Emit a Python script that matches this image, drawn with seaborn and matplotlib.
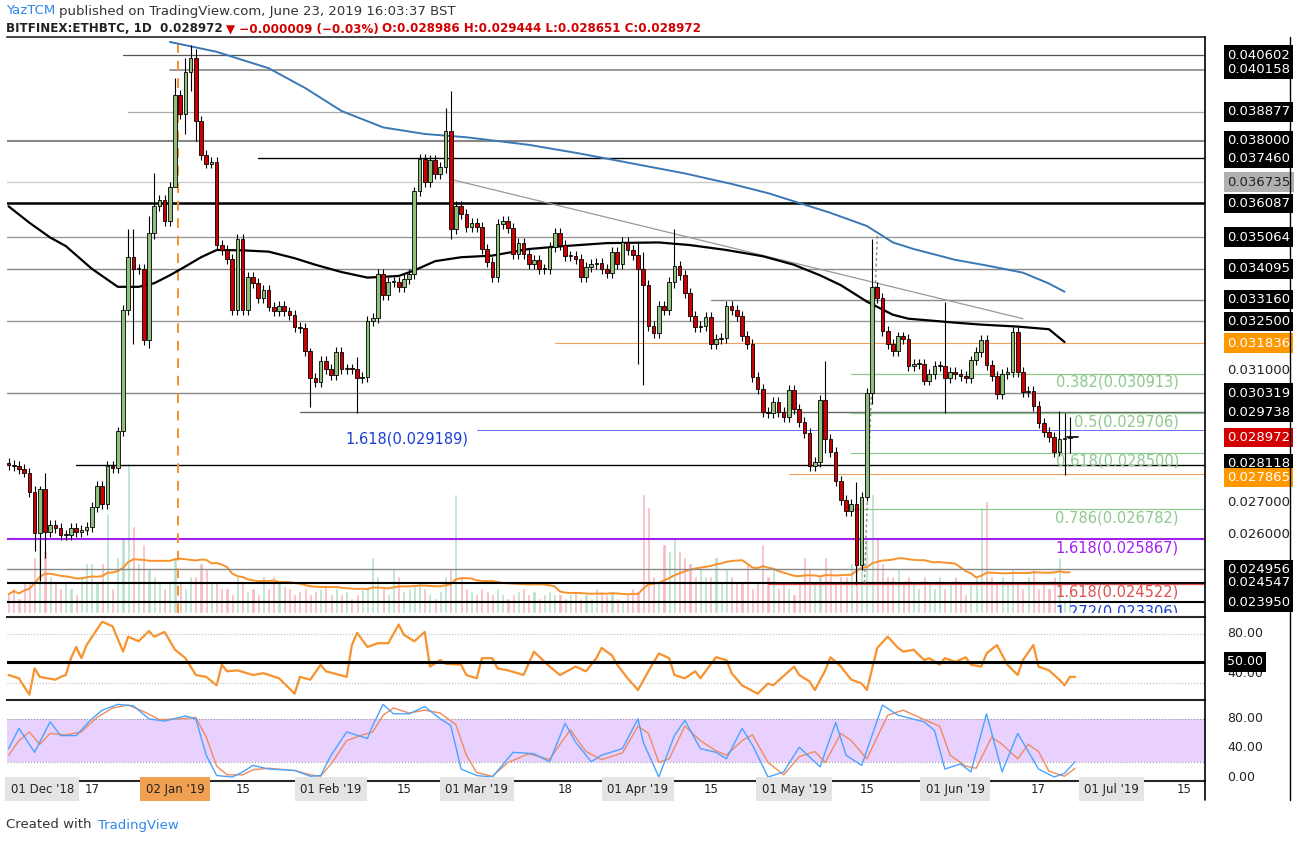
import matplotlib
matplotlib.use('Agg')
import matplotlib.pyplot as plt
import numpy as np
import pandas as pd
import seaborn as sns

# daily closes in units of 1e-4 BTC, 01 Dec 2018 .. 23 Jun 2019
closes = [281.4,281,280,279,273,260.7,274,261,263,262,
          260,260,262,261,261.5,262.5,268.5,275,269.5,281,
          280.5,291.5,328.4,344.7,340.8,340.8,319.4,352,360,362,
          355.6,366,394,388,401,405,386,375.7,373,373.6,
          348.3,346.6,344,328.4,350,328.4,338.5,336.7,332,334.6,
          329.5,328,329.8,328,327,323.4,323,316,307.7,306.5,
          313,310.5,308.6,315.7,310.5,310.6,310.5,307.7,308,325,
          326,339.5,333,337,337,335.5,338,339.4,364.5,374.4,
          367.3,374,369.8,372,383,353,
          360,357.6,353.7,354.8,353.7,346.9,343,338.5,354.5,355.6,
          353.3,345.4,348.8,345.4,342.4,343.8,340.8,341,347.6,351.9,
          348.2,345,345,344,338.5,341.6,342.4,342.7,340.8,339.6,
          346.1,342.4,349.2,346.6,345.2,340.9,336,323.6,321.5,329.6,
          328.3,337,341.8,339,333.6,326.6,323.2,323.5,326.2,318,
          319.5,319.8,329.6,328.4,326.6,320.6,318,308,304.3,297.3,
          297,300.6,297.3,296,304,298.4,294.4,291,281,282.2,
          301,289.3,285.3,276.5,270.7,267.3,269.5,251,271.7,303.3,
          335.4,332,
          322,318,316,320.4,319.5,311.4,312,312,307,308.9,
          311.4,311.4,307.8,309.7,309,308.3,307.7,313.1,315.6,319.3,
          311.7,308.3,303,308.9,309.7,321.7,309.7,303.5,303.8,299.3,
          294.2,291.4,289.7,285.2,289.2,289.5,289.7]
first_open = 282
# notable wicks: index -> (high, low)
wicks = {5: (275, 255), 6: (275, 246), 7: (279, 253), 22: (330, 290), 23: (353, 327),
         24: (353, 318), 27: (357, 317), 28: (370, 350), 32: (399, 366), 34: (405, 382),
         35: (409, 395), 36: (408, 380), 58: (317, 299), 67: (314, 297), 84: (390, 370),
         85: (395, 350), 121: (349, 312), 122: (346, 305.6), 128: (353, 335), 157: (313, 285),
         163: (276, 245), 166: (350, 300), 180: (331, 297), 202: (297.7, 284),
         203: (297, 278.3), 204: (296, 285)}
volume = [15,20,12,25,25,45,60,50,30,25,20,25,20,15,30,40,40,25,40,80,20,45,60,120,70,40,55,35,30,25,20,
          25,45,25,20,30,30,40,35,25,25,20,20,15,30,25,18,20,15,30,20,30,25,22,20,15,18,20,15,18,20,22,
          15,20,15,18,12,15,20,22,45,30,20,15,35,30,18,20,22,25,20,15,12,18,30,35,95,30,20,18,
          15,20,18,15,20,15,12,15,18,20,15,18,12,15,18,15,15,12,15,18,12,15,12,20,18,15,18,12,10,15,20,
          18,95,85,30,25,55,50,60,50,45,40,30,35,30,30,45,25,35,30,25,25,40,20,25,55,30,35,20,25,20,
          15,25,45,35,25,30,45,35,25,30,30,40,85,75,60,95,60,40,30,30,35,25,30,25,20,30,25,20,30,20,25,
          30,25,15,25,30,85,90,30,25,30,25,35,25,20,30,35,20,25,20,30,45,10,15]

# moving averages: (day index, value 1e-4)
ma200_pts = [(31, 410), (40, 407), (50, 402), (57, 396), (64, 389), (72, 384), (80, 382), (88, 381),
             (100, 378.7), (110, 376), (120, 373), (130, 370), (139, 366.8), (146, 364), (152, 361),
             (158, 358), (165, 354), (170, 349), (174, 347), (182, 343.7), (188, 342), (195, 339.8),
             (200, 336.5), (203, 334)]
ma50_pts = [(0, 360), (4, 355), (8, 350.5), (11, 347.9), (16, 341), (21, 335.5), (25, 335.5),
            (28, 336.6), (31, 339), (34, 341.7), (37, 344.5), (40, 346.7), (45, 346.6), (50, 346.2),
            (55, 344.2), (59, 342.2), (64, 340), (69, 338.3), (75, 338.8), (78, 340.5), (82, 343.3),
            (87, 344.5), (93, 345), (100, 347), (106, 347.8), (115, 348.8), (125, 349), (131, 348.2),
            (138, 346.7), (145, 344.8), (151, 342.2), (156, 339), (160, 336), (165, 331), (170, 327),
            (173, 325.8), (176, 325.4), (182, 324.6), (187, 324), (194, 323.4), (200, 322.6),
            (203, 318.7)]
rsi_pts = [(0,36),(2,32.5),(4,15),(5,43),(6,34),(9,31),(10,34),(11,36),(12,54),(13,66),(14,54),(15,68),
           (18,93),(20,88),(22,61),(23,77),(25,72),(27,83),(28,77),(30,82),(32,63),(34,54),(36,36),(38,34),
           (40,25),(41,47),(42,40),(44,41),(47,36),(49,38),(52,32.5),(55,16),(56,34),(58,31),(60,47),(61,40),
           (65,34),(66,68),(67,81),(69,66),(71,70),(73,70),(75,90),(76,79),(78,72),(80,82),(81,45),(83,52),
           (84,48),(87,47),(88,36),(90,32.5),(91,54),(93,54),(94,43),(96,41),(99,36),(101,61),(104,45),
           (106,36),(109,45),(111,40),(113,54),(114,65),(116,57),(117,47),(119,32.5),(121,20),(123,40),
           (125,59),(127,54),(128,36),(130,32.5),(132,40),(133,32.5),(136,55),(138,52),(139,38),(141,25),
           (144,16),(146,27),(147,25),(151,45),(152,36),(154,29),(155,20),(157,41),(158,55),(160,45),
           (162,31),(164,27),(165,20),(167,65),(169,77),(171,65),(172,61),(174,63),(176,52),(177,54),
           (179,47),(180,54),(182,50),(184,55),(185,47),(187,45),(188,59),(190,68),(192,47),(194,36),
           (195,52),(197,68),(198,45),(200,41),(202,31),(203,25),(204,34),(205,34)]
stoch_k_pts = [(0,39),(2,67),(5,34),(8,76),(10,57),(13,57),(16,80),(18,92),(21,100),(24,98),(27,80),
               (30,77),(34,84),(36,80),(38,30),(40,2),(43,0),(45,7),(47,16),(50,11),(55,9),(58,1),(60,2),
               (62,30),(65,62),(69,53),(70,71),(72,100),(74,87),(77,87),(80,97),(83,80),(85,71),(87,11),
               (90,2),(93,0),(97,34),(101,32),(104,21),(107,74),(109,48),(112,21),(114,30),(118,39),
               (121,80),(122,48),(125,0),(128,57),(130,78),(133,39),(136,34),(138,25),(141,67),(143,44),
               (146,0),(149,7),(152,41),(156,14),(159,75),(161,30),(164,16),(168,99),(171,85),(176,76),
               (178,64),(180,11),(183,18),(185,7),(188,87),(191,7),(194,60),(198,11),(201,0),(203,5),(205,21)]
stoch_d_pts = [(0,30),(2,50),(4,62),(6,45),(8,60),(11,58),(14,62),(17,82),(20,95),(23,99),(26,90),
               (29,79),(33,80),(36,82),(38,55),(40,15),(42,3),(45,3),(47,10),(50,12),(55,9),(58,3),(60,1),
               (62,18),(65,50),(68,58),(70,62),(72,85),(74,95),(77,88),(80,92),(83,88),(86,72),(88,30),
               (90,6),(93,1),(96,20),(100,32),(104,24),(106,45),(108,65),(111,35),(114,24),(118,33),
               (121,70),(123,60),(125,20),(127,25),(130,70),(133,50),(136,36),(138,30),(141,50),(143,58),
               (146,20),(149,3),(152,28),(155,35),(157,20),(160,60),(162,50),(165,25),(169,85),(172,92),
               (176,79),(179,70),(181,30),(184,15),(186,12),(189,55),(191,45),(194,25),(196,45),(198,35),
               (200,8),(203,1),(205,12)]

# horizontal levels: price, colour, width, start day, right-hand box colour
levels = [(0.040602, '#555555', 0.9, 22, 'black'), (0.040158, '#888888', 1.2, 31, 'black'),
          (0.038877, '#aaaaaa', 0.9, 23, 'black'), (0.038000, '#888888', 1.5, -1, 'black'),
          (0.037460, 'black', 1.0, 48, 'black'), (0.036735, '#cccccc', 1.0, -1, '#b0b0b0'),
          (0.036087, 'black', 1.8, -1, 'black'), (0.035064, '#999999', 1.0, -1, 'black'),
          (0.034095, '#888888', 1.0, -1, 'black'), (0.033160, '#888888', 1.0, 135, 'black'),
          (0.032500, '#999999', 1.0, -1, 'black'), (0.031836, '#f5a05a', 0.8, 105, '#ff9800'),
          (0.030319, '#888888', 1.0, -1, 'black'), (0.029738, '#666666', 1.0, 56, 'black'),
          (0.028118, 'black', 1.0, 13, 'black'), (0.027865, '#f5a05a', 0.8, 150, '#ff9800'),
          (0.024956, '#888888', 1.0, -1, 'black'), (0.024547, 'black', 1.5, -1, 'black'),
          (0.023950, 'black', 1.5, -1, 'black')]
fibs = [(0.030913, '0.382(0.030913)', '#8fc88f', 162), (0.029706, '0.5(0.029706)', '#8fc88f', 162),
        (0.028500, '0.618(0.028500)', '#8fc88f', 162), (0.026782, '0.786(0.026782)', '#8fc88f', 162),
        (0.025867, '1.618(0.025867)', '#a020f0', -1), (0.024522, '1.618(0.024522)', '#e05050', 146),
        (0.023306, '1.272(0.023306)', '#1a3fd6', 999)]
plain_ticks = [0.031, 0.027, 0.026]
last_price = 0.028972
label_nudge = {0.028118: 0.00006, 0.027865: -0.00012}

sns.set_style('white')
plt.rcParams['font.family'] = ['DejaVu Sans']

n = len(closes)
cl = np.array(closes) / 1e4
op = np.concatenate([[first_open / 1e4], cl[:-1]])
hi = np.maximum(op, cl) + 0.00015
lo = np.minimum(op, cl) - 0.00015
for k, (h, l) in wicks.items():
    hi[k] = h / 1e4
    lo[k] = l / 1e4
x = np.arange(n)
up = cl >= op

fig = plt.figure(figsize=(12.94, 8.42), dpi=100)
W, H = 1294, 842
def axrect(x0, y0, x1, y1):
    return [x0 / W, 1 - y1 / H, (x1 - x0) / W, (y1 - y0) / H]

ax = fig.add_axes(axrect(7, 37, 1205, 613))
ax_r = fig.add_axes(axrect(7, 617, 1205, 697))
ax_s = fig.add_axes(axrect(7, 700, 1205, 781))
XL = (-0.3, 230.0)
LX = 1.0 + 22 / 1198

# volume behind candles
axv = ax.twinx()
vcol = np.where(up, '#b7e0c8', '#f7b8bf')
axv.bar(x, volume, width=0.6, color=vcol, zorder=0)
vol_ma = pd.Series(volume).rolling(20, min_periods=1).mean()
sns.lineplot(x=x, y=vol_ma, ax=axv, color='#f7922d', lw=1.4)
axv.set_ylim(0, 100 * 576 / 125)
axv.set_axis_off()
ax.set_zorder(axv.get_zorder() + 1)
ax.patch.set_visible(False)

ylo, yhi = 0.023627, 0.041150
ax.set_xlim(*XL)
ax.set_ylim(ylo, yhi)
axv.set_xlim(*XL)

for p, c, lw, s, box in levels:
    ax.plot([s, XL[1]], [p, p], color=c, lw=lw, zorder=1)
for p, txt, c, s in fibs:
    if s < 220:
        ax.plot([s, XL[1]], [p, p], color=c, lw=0.9 if c != '#a020f0' else 1.5, zorder=1)
    if p < ylo:
        ax.text(225, ylo + 0.00002, txt, color=c, fontsize=10.5, ha='right', va='center',
                clip_on=True)
    else:
        ax.text(225, p - 0.00003, txt, color=c, fontsize=10.5, ha='right', va='top', clip_on=False)
ax.plot([90, XL[1]], [0.029189, 0.029189], color='#6a6aff', lw=0.7)
ax.text(88.5, 0.029189 - 0.00003, '1.618(0.029189)', color='#1a3fd6', fontsize=10.5, ha='right', va='top')

# trend line and dashed markers
ax.plot([85, 195], [0.03682, 0.03258], color='#999999', lw=0.9)
ax.plot([167, 164.5], [0.0351, 0.0245], color='#888888', lw=1, ls=(0, (2, 2)))
ax.axvline(32.5, color='#f7922d', lw=1.4, ls=(0, (5, 4)), zorder=2)

# MAs
m200 = pd.DataFrame(ma200_pts, columns=['d', 'v'])
m50 = pd.DataFrame(ma50_pts, columns=['d', 'v'])
sns.lineplot(x=m200.d, y=m200.v / 1e4, ax=ax, color='#3a78b5', lw=1.4)
sns.lineplot(x=m50.d, y=m50.v / 1e4, ax=ax, color='black', lw=1.6)

# candles
ccol = np.where(up, '#8fbf7a', '#cc0000')
ax.vlines(x, lo, hi, color='black', lw=0.8, zorder=3)
ax.bar(x, np.maximum(np.abs(cl - op), 0.00003), bottom=np.minimum(op, cl), width=0.7,
       color=ccol, edgecolor='black', lw=0.6, zorder=4)

ax.set_xlabel(''); ax.set_ylabel('')
ax.set_xticks([]); ax.set_yticks([])
for sp in ax.spines.values():
    sp.set_visible(False)
ax.spines['top'].set_visible(True); ax.spines['top'].set_linewidth(1.2)

# right price labels
for p, c, lw, s, box in levels:
    ax.text(LX, p + label_nudge.get(p, 0), '%.6f' % p, transform=ax.get_yaxis_transform(), fontsize=9.5,
            color='white' if box != '#b0b0b0' else '#222222', va='center', ha='left',
            bbox=dict(boxstyle='square,pad=0.25', fc=box, ec='none'), clip_on=False)
for p in plain_ticks:
    ax.text(LX, p, '%.6f' % p, transform=ax.get_yaxis_transform(), fontsize=9.5,
            color='#222222', va='center', ha='left', clip_on=False)
ax.text(LX, last_price, '%.6f' % last_price, transform=ax.get_yaxis_transform(),
        fontsize=9.5, color='white', va='center', ha='left',
        bbox=dict(boxstyle='square,pad=0.25', fc='#d40000', ec='none'), clip_on=False)
ax.plot([203.5, 205.5], [last_price, last_price], color='black', lw=1.2)

# RSI
rsi = pd.DataFrame(rsi_pts, columns=['d', 'v'])
sns.lineplot(x=rsi.d, y=rsi.v, ax=ax_r, color='#f7922d', lw=1.6)
ax_r.axhline(50, color='black', lw=2.2)
for v in (80, 27):
    ax_r.axhline(v, color='#bbbbbb', lw=0.8, ls=':')
ax_r.set_ylim(12.5, 98)
ax_r.set_xlim(*XL)
ax_r.text(LX, 80, '80.00', transform=ax_r.get_yaxis_transform(), fontsize=9,
          color='#222222', va='center', clip_on=False)
ax_r.text(LX, 38, '40.00', transform=ax_r.get_yaxis_transform(), fontsize=9,
          color='#222222', va='center', clip_on=False)
ax_r.text(LX, 50, '50.00', transform=ax_r.get_yaxis_transform(), fontsize=9,
          color='white', va='center', bbox=dict(boxstyle='square,pad=0.25', fc='black', ec='none'),
          clip_on=False)

# Stoch RSI
ax_s.axhspan(20, 80, color='#e6ccff', alpha=0.9, lw=0)
for v in (80, 20):
    ax_s.axhline(v, color='#999999', lw=0.8, ls=':')
sk = pd.DataFrame(stoch_k_pts, columns=['d', 'v'])
sd = pd.DataFrame(stoch_d_pts, columns=['d', 'v'])
sns.lineplot(x=sd.d, y=sd.v, ax=ax_s, color='#f08a5d', lw=1.0)
sns.lineplot(x=sk.d, y=sk.v, ax=ax_s, color='#4aa3ff', lw=1.0)
ax_s.set_ylim(-5.5, 106)
ax_s.set_xlim(*XL)
for v in (80, 40, 0):
    ax_s.text(LX, v, '%.2f' % v, transform=ax_s.get_yaxis_transform(), fontsize=9,
              color='#222222', va='center', clip_on=False)

for a in (ax_r, ax_s):
    a.set_xlabel(''); a.set_ylabel('')
    a.set_xticks([]); a.set_yticks([])
    for sp in a.spines.values():
        sp.set_visible(False)
    a.spines['top'].set_visible(True); a.spines['top'].set_linewidth(1.5)
ax_s.spines['bottom'].set_visible(True); ax_s.spines['bottom'].set_linewidth(1.5)

# frame lines
fig.add_artist(plt.Line2D([1205 / W, 1205 / W], [1 - 800 / H, 1 - 37 / H], color='black', lw=1.2))
fig.add_artist(plt.Line2D([1290 / W, 1290 / W], [1 - 800 / H, 1 - 37 / H], color='black', lw=1.0))

# date labels
start = pd.Timestamp('2018-12-01')
tick_dates = [('2018-12-01', "01 Dec '18", True), ('2018-12-17', '17', False),
              ('2019-01-02', "02 Jan '19", 'o'), ('2019-01-15', '15', False),
              ('2019-02-01', "01 Feb '19", True), ('2019-02-15', '15', False),
              ('2019-03-01', "01 Mar '19", True), ('2019-03-18', '18', False),
              ('2019-04-01', "01 Apr '19", True), ('2019-04-15', '15', False),
              ('2019-05-01', "01 May '19", True), ('2019-05-15', '15', False),
              ('2019-06-01', "01 Jun '19", True), ('2019-06-17', '17', False),
              ('2019-07-01', "01 Jul '19", True), ('2019-07-15', '15', False)]
for ds, lab, box in tick_dates:
    d = (pd.Timestamp(ds) - start).days
    if lab.startswith('01 Dec'):
        d = 6.5
    kw = {}
    if box == 'o':
        kw['bbox'] = dict(boxstyle='square,pad=0.45', fc='#f0a050', ec='none')
    elif box:
        kw['bbox'] = dict(boxstyle='square,pad=0.45', fc='#e4e4e4', ec='none')
    ax_s.text(d, -0.1, lab, transform=ax_s.get_xaxis_transform(), fontsize=8.5, ha='center',
              va='center', color='#222222', clip_on=False, **kw)

# header/footer, pieces chained left to right
fig.canvas.draw()
rend = fig.canvas.get_renderer()
def chain(pieces, x0, y, **kw):
    xp = x0
    for txt, col, gap in pieces:
        t = fig.text(xp / W, 1 - y / H, txt, color=col, va='center', **kw)
        xp = t.get_window_extent(rend).x1 + gap

chain([('YazTCM', '#2e87e6', 4), ('published on TradingView.com, June 23, 2019 16:03:37 BST', '#333333', 0)],
      6, 11, fontsize=9.5)
chain([('BITFINEX:ETHBTC, 1D  0.028972', '#222222', 3),
       ('\u25bc \u22120.000009 (\u22120.03%)', '#d40000', 4),
       ('O:0.028986 H:0.029444 L:0.028651 C:0.028972', '#d40000', 0)],
      6, 29, fontsize=8.6, fontweight='bold')
chain([('Created with', '#333333', 6), ('TradingView', '#2e87e6', 0)], 6, 825, fontsize=9.5)

fig.savefig('out.png', dpi=100)
